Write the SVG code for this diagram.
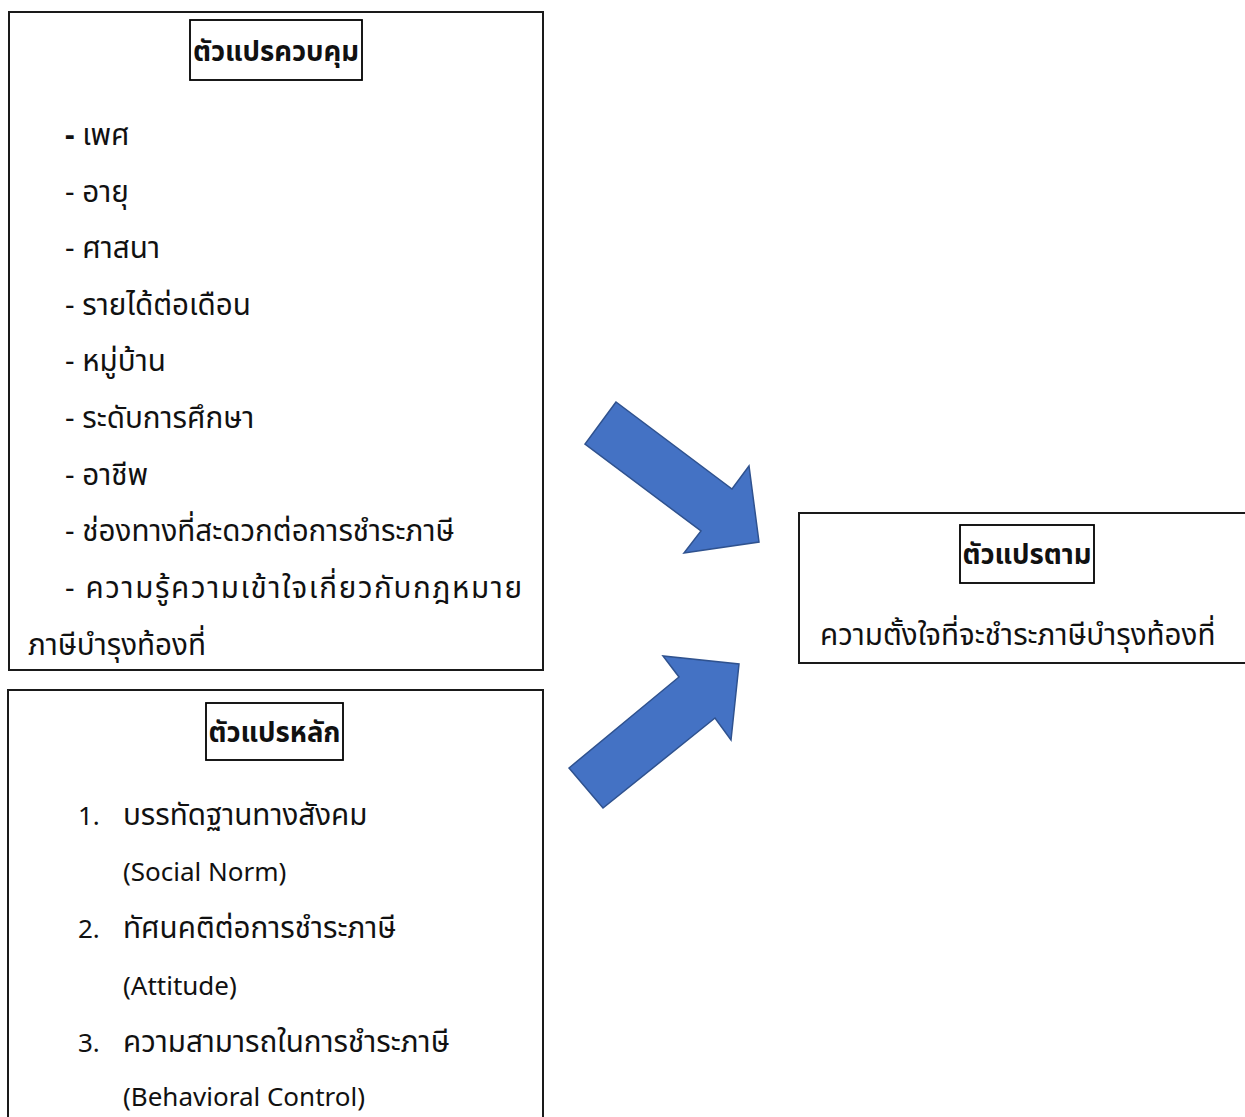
<svg xmlns="http://www.w3.org/2000/svg" width="1245" height="1117" viewBox="0 0 1245 1117">
<style>
.box{fill:#fff;stroke:#1a1a1a;stroke-width:2}
.tbox{fill:#fff;stroke:#000;stroke-width:1.8}
.t{font-family:"Noto Sans Thai","Noto Sans","DejaVu Sans",sans-serif;font-size:29.6px;fill:#111}
.e{font-size:26px}
.h{font-weight:bold;text-anchor:middle;font-size:27.5px}
.arrow{fill:#4472C4;stroke:#2F528F;stroke-width:1.5;stroke-linejoin:miter}
</style>
<rect width="1245" height="1117" fill="#fff"/>
<g id="control">
<rect class="box" x="9" y="12" width="534" height="658"/>
<rect class="tbox" x="190" y="20" width="172" height="60"/>
<text class="t h" x="276" y="61">ตัวแปรควบคุม</text>
<text class="t" x="65" y="145"><tspan font-weight="bold">-</tspan> เพศ</text>
<text class="t" x="65" y="202">- อายุ</text>
<text class="t" x="65" y="258">- ศาสนา</text>
<text class="t" x="65" y="315">- รายได้ต่อเดือน</text>
<text class="t" x="65" y="371">- หมู่บ้าน</text>
<text class="t" x="65" y="428">- ระดับการศึกษา</text>
<text class="t" x="65" y="485">- อาชีพ</text>
<text class="t" x="65" y="541">- ช่องทางที่สะดวกต่อการชำระภาษี</text>
<text class="t" x="65" y="598" textLength="457" lengthAdjust="spacing">- ความรู้ความเข้าใจเกี่ยวกับกฎหมาย</text>
<text class="t" x="28" y="655">ภาษีบำรุงท้องที่</text>
</g>
<g id="main">
<rect class="box" x="8" y="690" width="535" height="440"/>
<rect class="tbox" x="206" y="703" width="137" height="57"/>
<text class="t h" x="274.5" y="742">ตัวแปรหลัก</text>
<text class="t e" x="78" y="825">1.</text>
<text class="t" x="123" y="825">บรรทัดฐานทางสังคม</text>
<text class="t e" x="123" y="881">(Social Norm)</text>
<text class="t e" x="78" y="938">2.</text>
<text class="t" x="123" y="938">ทัศนคติต่อการชำระภาษี</text>
<text class="t e" x="123" y="995">(Attitude)</text>
<text class="t e" x="78" y="1052">3.</text>
<text class="t" x="123" y="1052">ความสามารถในการชำระภาษี</text>
<text class="t e" x="123" y="1106">(Behavioral Control)</text>
</g>
<g id="dependent">
<rect class="box" x="799" y="513" width="460" height="150"/>
<rect class="tbox" x="960" y="525" width="134" height="58"/>
<text class="t h" x="1027" y="564">ตัวแปรตาม</text>
<text class="t" x="820" y="645">ความตั้งใจที่จะชำระภาษีบำรุงท้องที่</text>
</g>
<g id="connectors">
<polygon class="arrow" points="616,402 585,444 701,531 684,553 759,542 749,466 732,489"/>
<polygon class="arrow" points="569,768 603,808 715,718 731,740 739,664 663,656 679,677"/>
</g>
</svg>
